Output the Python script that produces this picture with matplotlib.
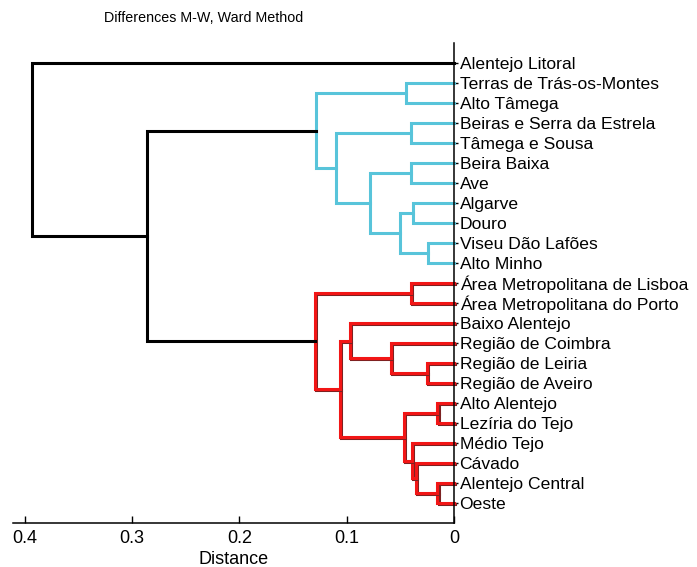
import matplotlib
matplotlib.use("Agg")
import matplotlib.pyplot as plt
from matplotlib import transforms

plt.rcParams["font.family"] = ["Liberation Sans", "DejaVu Sans"]

# leaves, top to bottom as they appear on the right-hand axis
leaves = [
    "Alentejo Litoral",
    "Terras de Trás-os-Montes",
    "Alto Tâmega",
    "Beiras e Serra da Estrela",
    "Tâmega e Sousa",
    "Beira Baixa",
    "Ave",
    "Algarve",
    "Douro",
    "Viseu Dão Lafões",
    "Alto Minho",
    "Área Metropolitana de Lisboa",
    "Área Metropolitana do Porto",
    "Baixo Alentejo",
    "Região de Coimbra",
    "Região de Leiria",
    "Região de Aveiro",
    "Alto Alentejo",
    "Lezíria do Tejo",
    "Médio Tejo",
    "Cávado",
    "Alentejo Central",
    "Oeste",
]

# Ward linkage: (child a, child b, distance)
# ids below 23 are leaves, id 23 + k is the k-th merge
merge_a = [17, 21, 9, 15, 20, 7, 19, 11, 3, 5, 1, 23, 28, 14, 32, 13, 38, 31, 33, 30, 41, 0]
merge_b = [18, 22, 10, 16, 24, 8, 27, 12, 4, 6, 2, 29, 25, 26, 35, 36, 34, 37, 40, 39, 42, 43]
merge_d = [0.0155, 0.0155, 0.024, 0.0255, 0.0355, 0.038, 0.039, 0.0405, 0.0405, 0.0405,
           0.0447, 0.047, 0.050, 0.059, 0.078, 0.097, 0.106, 0.110, 0.129, 0.130, 0.286, 0.393]

color_threshold = 0.2
x_ticks = [0.4, 0.3, 0.2, 0.1, 0]
x_tick_labels = ["0.4", "0.3", "0.2", "0.1", "0"]

palette = ["#58c4da", "#f21616"]
shadow = {"#f21616": "#7c2222"}

n = len(leaves)
ypos = {i: i + 1 for i in range(n)}
height = {i: 0.0 for i in range(n)}
for k, (a, b, d) in enumerate(zip(merge_a, merge_b, merge_d)):
    ypos[n + k] = (ypos[a] + ypos[b]) / 2
    height[n + k] = d

# clusters below the threshold get a colour, in leaf order
link_color = {}
roots = []
for k in range(len(merge_d) - 1, -1, -1):
    node = n + k
    if merge_d[k] >= color_threshold:
        link_color[node] = "black"
        for c in (merge_a[k], merge_b[k]):
            if c >= n and merge_d[c - n] < color_threshold:
                roots.append(c)
roots.sort(key=lambda r: ypos[r])
for r, col in zip(roots, palette):
    stack = [r]
    while stack:
        node = stack.pop()
        if node < n:
            continue
        link_color[node] = col
        stack += [merge_a[node - n], merge_b[node - n]]

fig = plt.figure(figsize=(6.97, 5.67), dpi=100)
ax = fig.add_axes([13 / 697, 44 / 567, 441 / 697, 480 / 567])
shifted = transforms.offset_copy(ax.transData, fig=fig, x=1.2, y=-1.2, units="dots")

for k, (a, b, d) in enumerate(zip(merge_a, merge_b, merge_d)):
    xs = [height[a], d, d, height[b]]
    ys = [ypos[a], ypos[a], ypos[b], ypos[b]]
    col = link_color[n + k]
    if col in shadow:
        ax.plot(xs, ys, color=shadow[col], lw=2.2, clip_on=False, transform=shifted,
                solid_joinstyle="miter")
    ax.plot(xs, ys, color=col, lw=2.2, clip_on=False, solid_joinstyle="miter")

ax.set_xlim(0.411, 0)
ax.set_ylim(24, 0)
ax.set_xticks(x_ticks)
ax.set_xticklabels(x_tick_labels, fontsize=13)
ax.set_yticks(range(1, n + 1))
ax.set_yticklabels(leaves, fontsize=12.6)
ax.yaxis.tick_right()
ax.tick_params(axis="x", direction="in", length=5, width=1, pad=5)
ax.tick_params(axis="y", direction="out", length=3, width=1, pad=1)
for side in ("top", "left"):
    ax.spines[side].set_visible(False)
for side in ("right", "bottom"):
    ax.spines[side].set_linewidth(1.1)
ax.set_xlabel("Distance", fontsize=13, labelpad=3)

fig.text(104 / 697, 1 - 18 / 567, "Differences M-W, Ward Method", fontsize=10.3,
         ha="left", va="center")

fig.savefig("out.png", dpi=100)
